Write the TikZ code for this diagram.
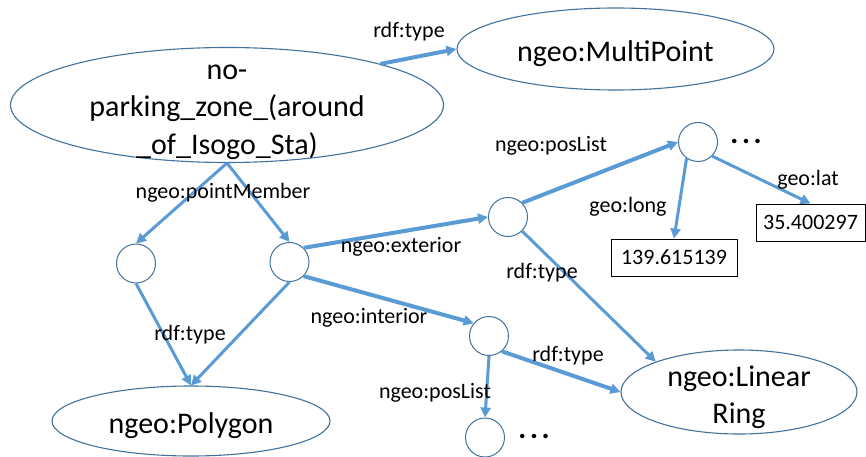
\documentclass[tikz,border=0pt]{standalone}
\usepackage{fontspec}
\setmainfont{Carlito}
\usetikzlibrary{shapes.geometric,arrows.meta}
\definecolor{edgeblue}{HTML}{5B9BD5}
\definecolor{rimblue}{HTML}{41719C}
% invisible rule: height #1 above and depth #2 below the baseline
\newcommand\lnstrut[2]{\rule[-#2]{0pt}{\dimexpr #1+#2\relax}}
% widely spaced continuation dots
\newcommand\contdots{\textbf{.\hspace{3.6pt}.\hspace{3.6pt}.}}

\begin{document}
\begin{tikzpicture}[x=1pt,y=-1pt,
  class/.style={ellipse, draw=rimblue, line width=1.1pt, inner sep=0pt,
    font=\fontsize{30}{37}\selectfont},
  classtext/.style={inner sep=0pt, align=center, font=\fontsize{30}{37}\selectfont},
  blank/.style={circle, draw=rimblue, line width=1pt, minimum size=39pt, inner sep=0pt},
  literal/.style={rectangle, draw=black, line width=0.9pt, minimum height=37pt,
    inner sep=0pt, font=\fontsize{22}{26}\selectfont},
  prop/.style={inner sep=0pt, font=\fontsize{22}{26}\selectfont},
  more/.style={inner sep=0pt, font=\fontsize{30}{37}\selectfont, anchor=base},
  link/.style={draw=edgeblue, line width=3pt, -{Triangle[length=10pt,width=10pt]}},
  linkbold/.style={link, line width=4pt},
]
\useasboundingbox (0,0) rectangle (866,457);

% resources and classes
\node[class, minimum width=433pt, minimum height=115pt] (zone) at (227,105) {};
\node[classtext] (zonetext) at (227,109.6)
  {\strut no-\\\strut parking\_zone\_(around\\\strut\_of\_Isogo\_Sta)};
\node[class, minimum width=317pt, minimum height=82pt] (mp) at (615.5,49)
  {\lnstrut{32pt}{6pt}ngeo:MultiPoint};
\node[class, minimum width=278pt, minimum height=70pt] (poly) at (191,421)
  {\lnstrut{30pt}{6pt}ngeo:Polygon};
\node[class, minimum width=236pt, minimum height=84pt] (ring) at (739,392) {};
\node[classtext] (ringtext) at (739,397.1) {\strut ngeo:Linear\\\strut Ring};

% blank nodes
\node[blank] (a) at (136,263.5) {};
\node[blank] (b) at (289.5,262) {};
\node[blank] (c) at (508,217) {};
\node[blank] (d) at (698,142) {};
\node[blank] (e) at (489,336) {};
\node[blank] (f) at (485,437.5) {};

% literals
\node[literal, minimum width=126pt] (lon) at (674,257.5) {139.615139};
\node[literal, minimum width=109pt] (lat) at (810.5,222.5) {35.400297};

% continuation marks
\node[more] (dmore) at (746,143) {\contdots};
\node[more] (fmore) at (534,438) {\contdots};

% properties
\draw[linkbold] (zone.15) -- (mp.west);
\draw[link] (zone.south) -- (a.north);
\draw[link] (zone.south) -- (b.north);
\draw[link] (a.south) -- (poly.north);
\draw[link] (b.south) -- (poly.north);
\draw[linkbold] (b.45) -- (c.west);
\draw[linkbold] (b.-45) -- (e.140);
\draw[linkbold] (c.45) -- (d.west);
\draw[link] (c.-45) -- (ring.160);
\draw[link] (d.-125) -- (lon.north);
\draw[link] (d.-45) -- (lat.north);
\draw[linkbold] (e.-50) -- (ring.west);
\draw[link] (e.south) -- (f.north);

% property labels
\node[prop] (l1) at (409,32) {rdf:type};
\node[prop] (l2) at (223,193) {ngeo:pointMember};
\node[prop] (l3) at (401,247) {ngeo:exterior};
\node[prop] (l4) at (369,318) {ngeo:interior};
\node[prop] (l5) at (551,146) {ngeo:posList};
\node[prop] (l6) at (628,207) {geo:long};
\node[prop] (l7) at (808,180) {geo:lat};
\node[prop] (l8) at (542,273) {rdf:type};
\node[prop] (l9) at (190,335) {rdf:type};
\node[prop] (l10) at (568,356) {rdf:type};
\node[prop] (l11) at (435,393) {ngeo:posList};
\end{tikzpicture}
\end{document}
